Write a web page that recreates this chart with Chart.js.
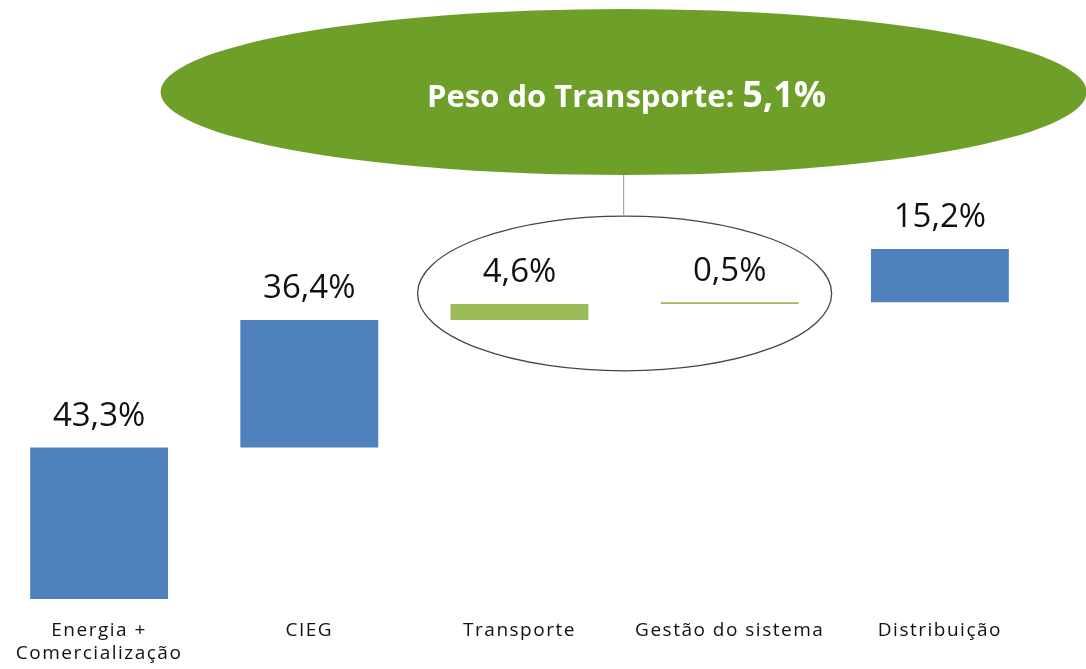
<!DOCTYPE html>
<html lang="pt">
<head>
<meta charset="utf-8">
<title>Peso do Transporte</title>
<script src="https://cdn.jsdelivr.net/npm/chart.js@4"></script>
<style>
  html, body { margin: 0; padding: 0; background: #ffffff; overflow: hidden; }
  #wrap { position: absolute; left: -6px; top: 0; width: 1100px; height: 669px; }
</style>
</head>
<body>
<div id="wrap"><canvas id="grafico" width="1100" height="669"></canvas></div>
<script>
// --- Dados ---
const categorias = [['Energia +', 'Comercialização'], 'CIEG', 'Transporte', 'Gestão do sistema', 'Distribuição'];
const pesos = [43.3, 36.4, 4.6, 0.5, 15.2];
const grupos = ['base', 'base', 'transporte', 'transporte', 'base'];

// barras flutuantes (cascata): cada barra começa onde a anterior terminou
const intervalos = [];
let acumulado = 0;
pesos.forEach(v => {
  intervalos.push([acumulado, acumulado + v]);
  acumulado += v;
});

const pesoTransporte = pesos.filter((v, i) => grupos[i] === 'transporte').reduce((a, b) => a + b, 0);

function fmt(v) {
  return v.toFixed(1).replace('.', ',') + '%';
}

const AZUL = '#4f81bd';
const VERDE_CLARO = '#9bbb59';
const VERDE = '#6e9f29';

// --- Plugin: espaçamento de letras nos eixos ---
const espacamento = {
  id: 'espacamento',
  beforeDraw(chart) {
    chart.ctx.letterSpacing = '1.5px';
  }
};

// --- Plugin: rótulos e elipses ---
const anotacoes = {
  id: 'anotacoes',
  afterDatasetsDraw(chart) {
    const ctx = chart.ctx;
    const x = chart.scales.x;
    const y = chart.scales.y;
    const meta = chart.getDatasetMeta(0);

    ctx.save();
    ctx.letterSpacing = '0px';

    // valores acima das barras
    ctx.font = '33px "Open Sans"';
    ctx.fillStyle = '#111111';
    ctx.textAlign = 'center';
    ctx.textBaseline = 'middle';
    meta.data.forEach((bar, i) => {
      const topo = Math.min(bar.y, bar.base);
      ctx.fillText(fmt(pesos[i]), bar.x, topo - 31);
    });

    // elipse à volta do transporte
    const cx = (x.getPixelForValue(2) + x.getPixelForValue(3)) / 2;
    const rx = (x.getPixelForValue(3) - x.getPixelForValue(2)) * 0.985;
    const cy = y.getPixelForValue(87.3);
    const ry = y.getPixelForValue(0) - y.getPixelForValue(22.1);
    ctx.beginPath();
    ctx.ellipse(cx, cy, rx, ry, 0, 0, Math.PI * 2);
    ctx.strokeStyle = '#3b4656';
    ctx.lineWidth = 1.3;
    ctx.stroke();

    // elipse verde grande
    const gx = cx - 1, gy = 92, grx = 463, gry = 83;
    ctx.beginPath();
    ctx.moveTo(gx, gy + gry);
    ctx.lineTo(gx, cy - ry);
    ctx.strokeStyle = '#a6a6a6';
    ctx.lineWidth = 1.2;
    ctx.stroke();

    ctx.beginPath();
    ctx.ellipse(gx, gy, grx, gry, 0, 0, Math.PI * 2);
    ctx.fillStyle = VERDE;
    ctx.fill();

    // título dentro da elipse
    const parte1 = 'Peso do Transporte: ';
    const parte2 = fmt(pesoTransporte);
    ctx.fillStyle = '#ffffff';
    ctx.textBaseline = 'alphabetic';
    ctx.textAlign = 'left';
    ctx.font = 'bold 31px "Open Sans"';
    const w1 = ctx.measureText(parte1).width;
    ctx.font = 'bold 36px "Open Sans"';
    const w2 = ctx.measureText(parte2).width;
    const inicio = gx + 3 - (w1 + w2) / 2;
    ctx.font = 'bold 31px "Open Sans"';
    ctx.fillText(parte1, inicio, 107);
    ctx.font = 'bold 36px "Open Sans"';
    ctx.fillText(parte2, inicio + w1, 107);

    ctx.restore();
  }
};

new Chart(document.getElementById('grafico'), {
  type: 'bar',
  data: {
    labels: categorias,
    datasets: [{
      data: intervalos,
      backgroundColor: grupos.map(g => g === 'transporte' ? VERDE_CLARO : AZUL),
      borderWidth: 0,
      borderSkipped: false,
      barPercentage: 0.656,
      categoryPercentage: 1.0
    }]
  },
  options: {
    responsive: false,
    animation: false,
    devicePixelRatio: 1,
    layout: { padding: { left: 0, right: 49, top: 39, bottom: 0 } },
    plugins: {
      legend: { display: false },
      tooltip: { enabled: false },
      title: { display: false }
    },
    scales: {
      x: {
        grid: { display: false, drawTicks: false },
        border: { display: false },
        afterFit(scale) { scale.height = 70; },
        ticks: {
          autoSkip: false,
          maxRotation: 0,
          minRotation: 0,
          padding: 20,
          color: '#111111',
          font: { family: '"Open Sans"', size: 19 }
        }
      },
      y: {
        display: false,
        min: 0,
        max: 160
      }
    }
  },
  plugins: [espacamento, anotacoes]
});
</script>
</body>
</html>
